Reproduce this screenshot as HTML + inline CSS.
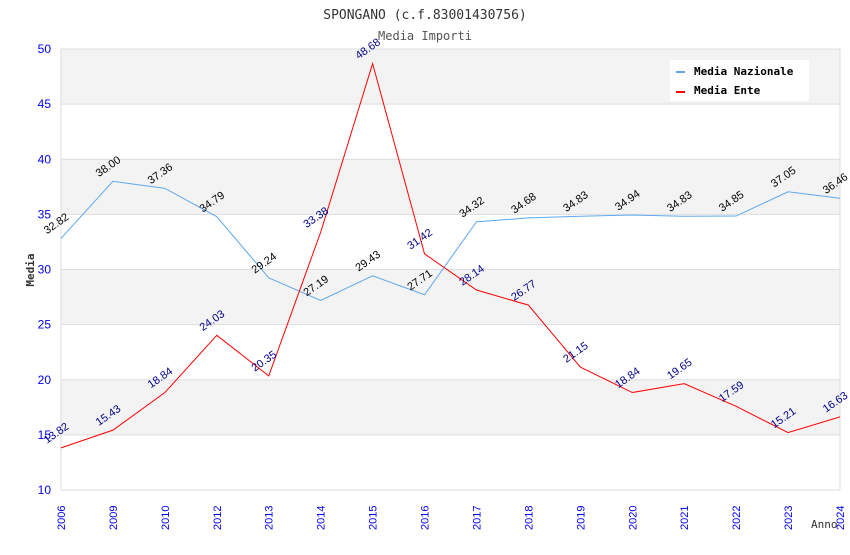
<!DOCTYPE html>
<html><head><meta charset="utf-8"><style>
body{margin:0;background:#fff;width:850px;height:550px;overflow:hidden}
text{font-family:"DejaVu Sans Mono","Liberation Mono",monospace}
text.sans{font-family:"Liberation Sans",sans-serif}
</style></head><body>
<svg id="c" width="850" height="550" xmlns="http://www.w3.org/2000/svg">
<text x="425" y="19" text-anchor="middle" font-size="13" fill="#333">SPONGANO (c.f.83001430756)</text>
<text x="425" y="40" text-anchor="middle" font-size="12" fill="#555">Media Importi</text>
<g id="bands"></g><g id="grid"></g><g id="axes"></g><g id="series"></g>
<text x="34" y="270" transform="rotate(-90 34 270)" text-anchor="middle" font-size="11" font-weight="bold" fill="#333">Media</text>
<text x="811" y="528" font-size="11" fill="#333">Anno</text>
<g>
<rect x="670" y="60" width="139" height="41" fill="#fff"/>
<rect x="676" y="71" width="9" height="2" fill="#5ea8ef"/>
<text x="694" y="75" font-size="11" font-weight="bold" fill="#000">Media Nazionale</text>
<rect x="676" y="91" width="9" height="2" fill="#ff0000"/>
<text x="694" y="94" font-size="11" font-weight="bold" fill="#000">Media Ente</text>
</g>
</svg>
<script>
const years=["2006","2009","2010","2012","2013","2014","2015","2016","2017","2018","2019","2020","2021","2022","2023","2024"];
const nazionale=[32.82,38.00,37.36,34.79,29.24,27.19,29.43,27.71,34.32,34.68,34.83,34.94,34.83,34.85,37.05,36.46];
const ente=[13.82,15.43,18.84,24.03,20.35,33.38,48.68,31.42,28.14,26.77,21.15,18.84,19.65,17.59,15.21,16.63];
const yTicks=[10,15,20,25,30,35,40,45,50];
const NS="http://www.w3.org/2000/svg";
const L=61,R=840,T=49,B=490;
const x=i=>L+i*(R-L)/(years.length-1);
const y=v=>B-(v-10)*(B-T)/40;
function mk(tag,attrs,parent){const e=document.createElementNS(NS,tag);for(const k in attrs)e.setAttribute(k,attrs[k]);document.getElementById(parent).appendChild(e);return e;}
for(let i=0;i<yTicks.length-1;i++){
  if(i%2===1){const b=mk('rect',{x:L,y:y(yTicks[i+1]),width:R-L,height:y(yTicks[i])-y(yTicks[i+1]),fill:'#f3f3f3'},'bands');
  
  }
}
yTicks.forEach(t=>{
  const g=mk('line',{x1:L,x2:R,y1:y(t),y2:y(t),stroke:'#dddddd'},'grid');
  
  
  const tx=mk('text',{x:L-10,y:y(t)+4,'text-anchor':'end','font-size':12,fill:'#0000ee',class:'sans'},'axes');tx.textContent=t;
  
  
});
mk('line',{x1:L,x2:L,y1:T,y2:B,stroke:'#dddddd'},'axes');
mk('line',{x1:R,x2:R,y1:T,y2:B,stroke:'#dddddd'},'axes');
years.forEach((yr,i)=>{
  const t=mk('text',{x:0,y:0,transform:`translate(${x(i)+4},${B+40}) rotate(-90)`,'font-size':11,fill:'#0000ee',class:'sans'},'axes');t.textContent=yr;
  
  
});
function series(vals,color,lblColor,name){
  const p=mk('polyline',{points:vals.map((v,i)=>x(i)+','+y(v)).join(' '),fill:'none',stroke:color,'stroke-width':1},'series');
  
  
  vals.forEach((v,i)=>{
    const t=mk('text',{x:0,y:0,transform:`translate(${x(i)-14},${y(v)-4}) rotate(-35)`,'font-size':11,fill:lblColor,class:'sans'},'series');
    t.textContent=v.toFixed(2);
    
    
  });
}
series(nazionale,'#5ea8ef','#000','nazionale');
series(ente,'#ff0000','#000088','ente');
</script>
</body></html>
